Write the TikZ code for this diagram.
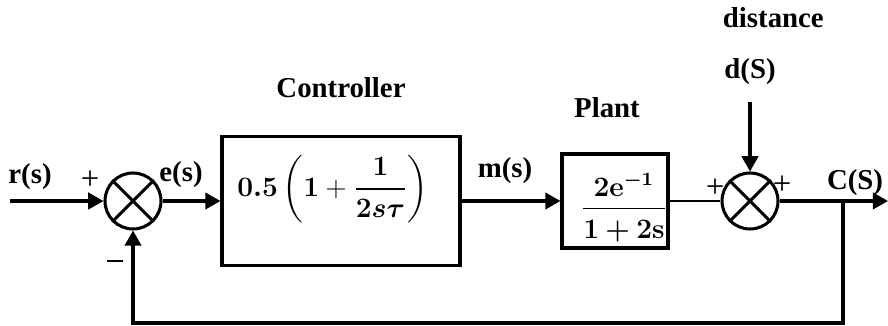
\documentclass[tikz,border=0pt]{standalone}
\usepackage{amsmath}
\usepackage[no-math]{fontspec}
\setmainfont{Liberation Serif}
\usetikzlibrary{arrows.meta,positioning}
\newcommand{\ctrltf}{$\displaystyle\boldsymbol{0.5}\left(\boldsymbol{1}+\boldsymbol{\frac{1}{2s\tau}}\right)$}
\newcommand{\planttf}{$\displaystyle\frac{\mathbf{2e}^{\boldsymbol{-}\mathbf{1}}\rule[-3pt]{0pt}{3pt}}{\rule{0pt}{11pt}\mathbf{1}\boldsymbol{+}\mathbf{2s}}$}
\begin{document}
\begin{tikzpicture}[line width=1.3pt,
    >={Triangle[length=6.5pt,width=7pt]},
    block/.style={draw, rectangle, inner sep=0pt},
    sumnode/.style={draw, circle, minimum size=0.84cm, inner sep=0pt},
    tf/.style={font=\fontsize{11.8}{14}\selectfont, inner sep=0pt},
    lbl/.style={font=\fontsize{12.3}{14}\selectfont\bfseries, inner sep=0pt},
    sgn/.style={font=\fontsize{14}{16}\selectfont, inner sep=0pt}]
    \useasboundingbox (0,-1.875) rectangle (13.32,3.015);

    \coordinate (in) at (0.15,0);
    \node[sumnode] (s1) at (1.995,0) {};
    \draw (s1.north west) -- (s1.south east) (s1.north east) -- (s1.south west);
    \node[block, minimum width=3.57cm, minimum height=1.935cm] (ctrl) at (5.115,0) {};
    \node[tf, xshift=-0.12cm, yshift=0.18cm] (ctrlf) at (ctrl.center) {\ctrltf};
    \node[block, minimum width=1.59cm, minimum height=1.41cm] (plant) at (9.225,0) {};
    \node[tf, xshift=0.135cm, yshift=-0.1cm] (plantf) at (plant.center) {\planttf};
    \node[sumnode] (s2) at (11.25,0) {};
    \draw (s2.north west) -- (s2.south east) (s2.north east) -- (s2.south west);
    \coordinate (dtop) at (11.25,1.485);
    \coordinate (out) at (13.32,0);
    \coordinate (br) at (12.645,0);
    \coordinate (fb) at (12.645,-1.83);

    \node[lbl] (rs) at (0.45,0.36) {r(s)};
    \node[sgn] (p1) at (1.35,0.315) {+};
    \node[sgn] (m1) at (1.725,-0.96) {\rule[0.5ex]{0.24cm}{0.7pt}};
    \node[lbl] (es) at (2.715,0.39) {e(s)};
    \node[lbl, above=0.54cm of ctrl] (ctrlname) {Controller};
    \node[lbl] (ms) at (7.575,0.45) {m(s)};
    \node[lbl, above=0.5cm of plant, xshift=-0.12cm] (plantname) {Plant};
    \node[sgn] (p2) at (10.725,0.195) {+};
    \node[sgn] (p3) at (11.73,0.24) {+};
    \node[lbl, above=0.23cm of dtop] (ds) {d(S)};
    \node[lbl, above=0.42cm of ds, xshift=0.35cm] (dist) {distance};
    \node[lbl] (cs) at (12.825,0.27) {C(S)};

    \draw[->] (in) -- (s1);
    \draw[->] (s1) -- (ctrl);
    \draw[->] (ctrl) -- (plant);
    \draw[line width=1pt] (plant) -- (s2);
    \draw[->] (dtop) -- (s2);
    \draw[->] (s2) -- (out);
    \draw[->] (br) -- (fb) -| (s1.south);
\end{tikzpicture}
\end{document}
